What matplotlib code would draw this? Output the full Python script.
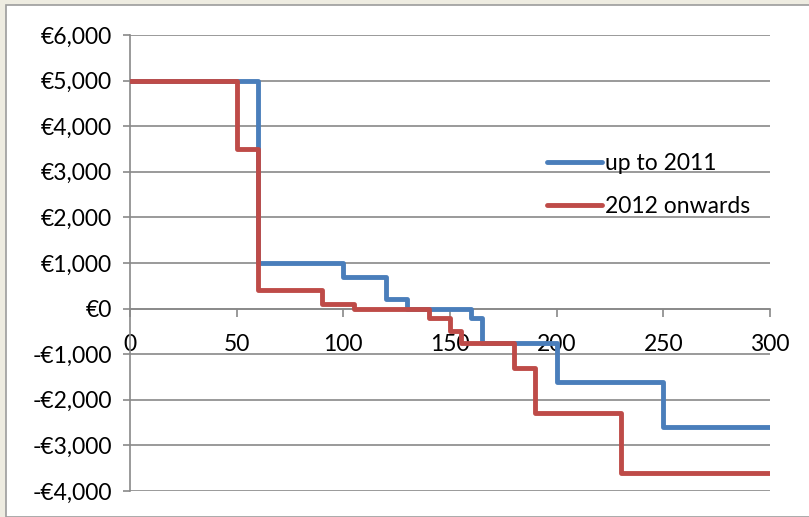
import matplotlib
matplotlib.use("Agg")
import matplotlib.pyplot as plt
from matplotlib.patches import Rectangle
from matplotlib.ticker import FuncFormatter

plt.rcParams['font.family'] = ['Lato', 'DejaVu Sans']

# Step schedules: value applies from each breakpoint to the next
up_to_2011_x = [0, 60, 100, 120, 130, 160, 165, 200, 250, 300]
up_to_2011_y = [5000, 1000, 700, 200, 0, -200, -750, -1600, -2600, -2600]

onwards_2012_x = [0, 50, 60, 90, 105, 140, 150, 155, 180, 190, 230, 300]
onwards_2012_y = [5000, 3500, 400, 100, 0, -200, -500, -750, -1300, -2300, -3600, -3600]

series_labels = ["up to 2011", "2012 onwards"]
x_ticks = [0, 50, 100, 150, 200, 250, 300]
y_ticks = [-4000, -3000, -2000, -1000, 0, 1000, 2000, 3000, 4000, 5000, 6000]

W, H = 809, 517
FS = 16.5
fig = plt.figure(figsize=(W / 100, H / 100), dpi=100)
fig.patch.set_facecolor('#EEECE1')
fig.patches.append(Rectangle((6 / W, 0), 1 - 6 / W + 0.01, 1 - 5 / H,
                             transform=fig.transFigure, facecolor='white',
                             edgecolor='#9C9C9C', linewidth=1.2, zorder=-10))

ax = fig.add_axes([130 / W, 1 - 491 / H, 640 / W, 456 / H])
ax.set_facecolor('none')

grid_c = '#898989'
ax.plot(up_to_2011_x, up_to_2011_y, drawstyle='steps-post', color='#4A7EBB',
        lw=3.5, solid_capstyle='round', solid_joinstyle='round',
        label=series_labels[0], zorder=3)
ax.plot(onwards_2012_x, onwards_2012_y, drawstyle='steps-post', color='#BE4B48',
        lw=3.5, solid_capstyle='round', solid_joinstyle='round',
        label=series_labels[1], zorder=4)

ax.set_xlim(0, 300)
ax.set_ylim(-4000, 6000)
ax.set_xticks(x_ticks)
ax.set_yticks(y_ticks)


def euro(v, pos):
    v = int(round(v))
    s = f"€{abs(v):,}"
    return "-" + s if v < 0 else s


ax.yaxis.set_major_formatter(FuncFormatter(euro))
ax.grid(axis='y', color=grid_c, lw=1.2, zorder=1)
ax.set_axisbelow(True)

for s in ('top', 'right'):
    ax.spines[s].set_visible(False)
ax.spines['left'].set_color(grid_c)
ax.spines['left'].set_linewidth(1.2)
ax.spines['bottom'].set_position(('data', 0))
ax.spines['bottom'].set_color(grid_c)
ax.spines['bottom'].set_linewidth(1.2)

ax.tick_params(axis='y', direction='out', length=5, width=1.2, color=grid_c,
               pad=8, labelsize=FS, labelcolor='black')
ax.tick_params(axis='x', direction='out', length=6, width=1.2, color=grid_c,
               pad=12, labelsize=FS, labelcolor='black')

leg = ax.legend(loc='upper left', bbox_to_anchor=(536 / W, 1 - 142 / H),
                bbox_transform=fig.transFigure, frameon=False,
                fontsize=FS, handlelength=2.4, handletextpad=0.12,
                labelspacing=0.95, borderpad=0)
for line in leg.get_lines():
    line.set_linewidth(3.5)
    line.set_solid_capstyle('round')

fig.savefig('out.png', dpi=100, facecolor=fig.get_facecolor())
